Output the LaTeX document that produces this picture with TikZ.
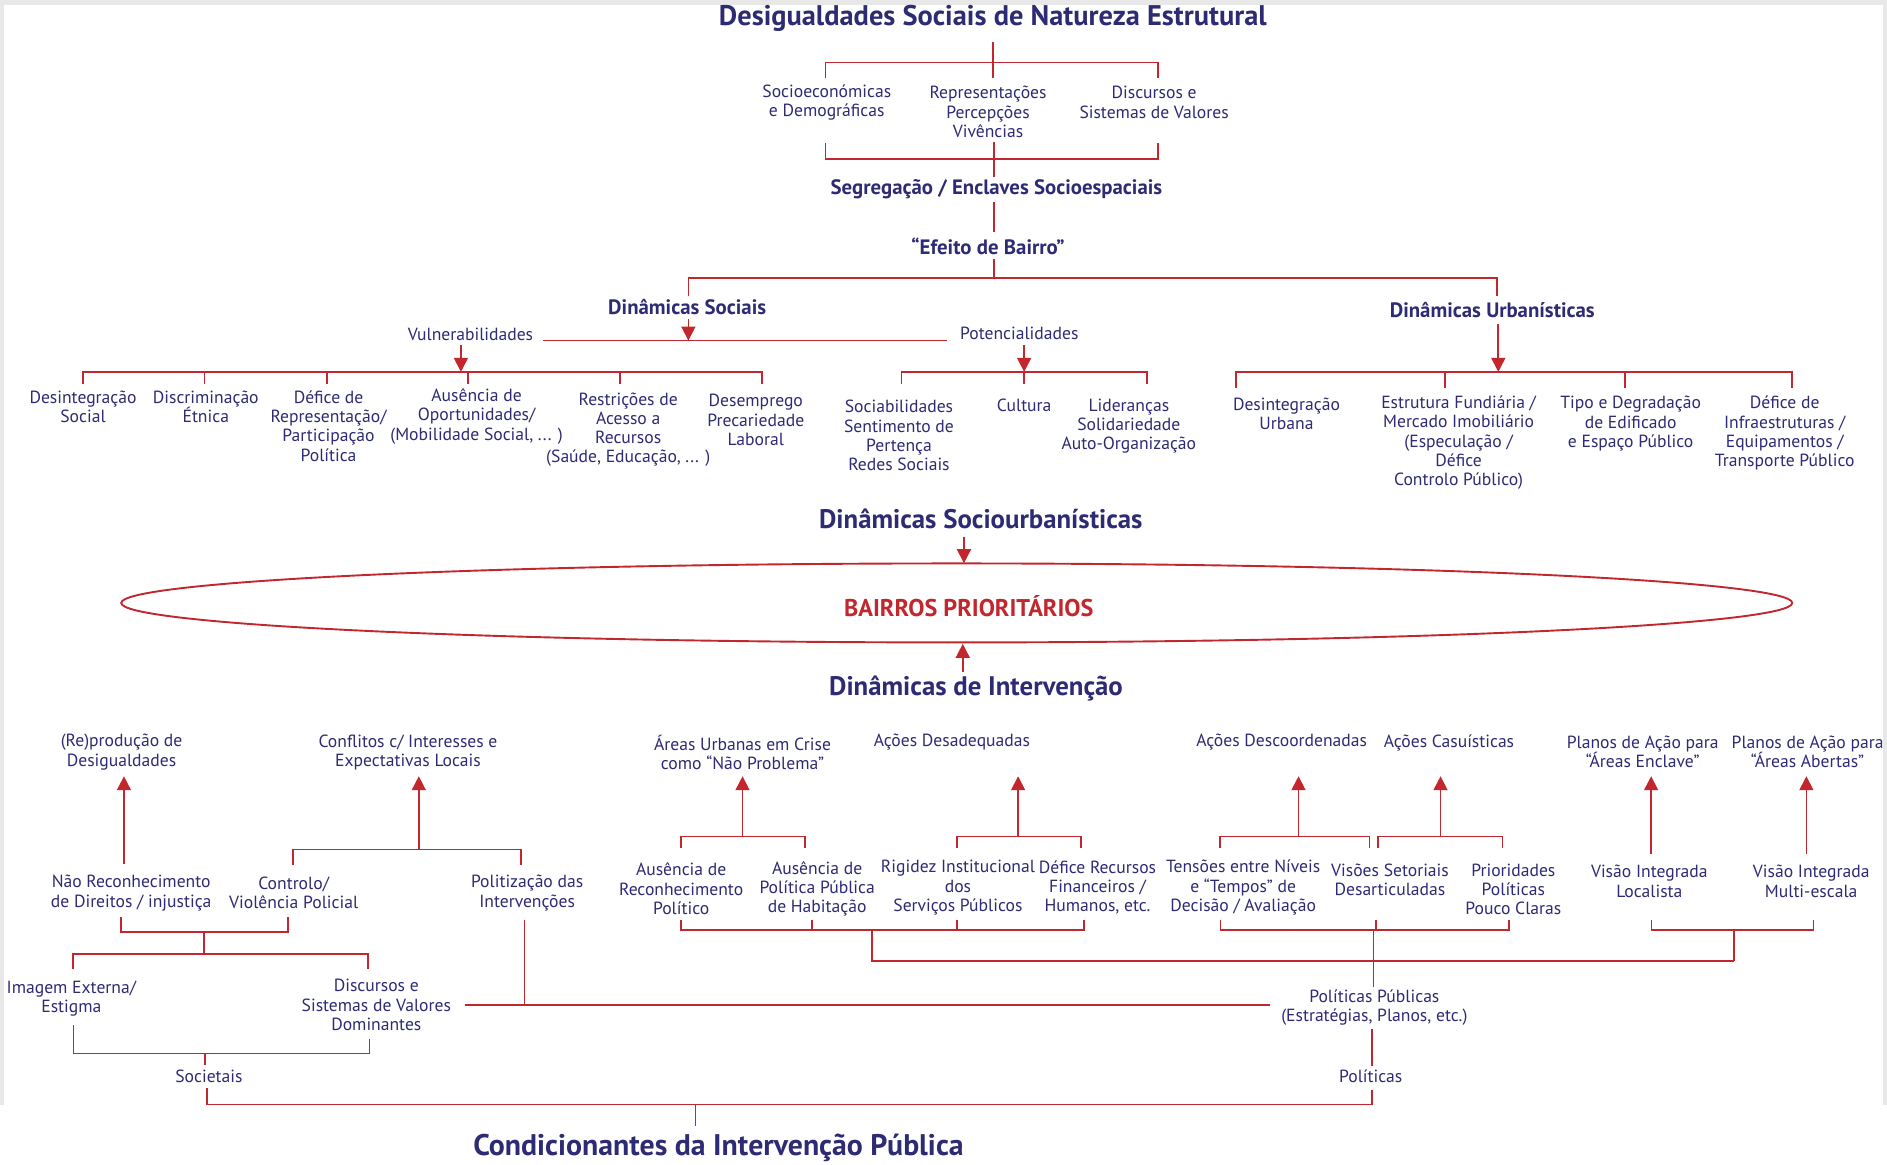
\documentclass[tikz,border=0pt]{standalone}
\usepackage{fontspec}
\setmainfont{PT Sans}
\usetikzlibrary{shapes.geometric,arrows.meta}
\definecolor{navy}{HTML}{2E2B75}
\definecolor{rline}{HTML}{C1272D}
\tikzset{
  txt/.style={align=center, text=navy, font=\fontsize{17.6}{19.3}\selectfont, inner sep=0pt},
  head/.style={align=center, text=navy, font=\bfseries\fontsize{20.8}{23}\selectfont, inner sep=0pt},
  bighead/.style={align=center, text=navy, font=\bfseries\fontsize{26.8}{29}\selectfont, inner sep=0pt},
  ln/.style={draw=rline, line width=1.7pt},
  arr/.style={ln, -{Triangle[width=14pt,length=14pt]}},
}
\begin{document}
\begin{tikzpicture}[x=1.2034pt, y=-1.2034pt]
\useasboundingbox (0,0) rectangle (1568,968);
\fill[white] (0,0) rectangle (1568,968);
\fill[gray!18] (0,0) rectangle (1568,4);
\fill[gray!18] (0,0) rectangle (3,918);
\fill[gray!18] (1565,0) rectangle (1568,918);

% ---------- top ----------
\node[bighead, font=\bfseries\fontsize{28.4}{30}\selectfont] (title) at (825,15) {Desigualdades Sociais de Natureza Estrutural};
\node[txt] (socio) at (687,85) {Socioeconómicas\\e Demográficas};
\node[txt] (repr) at (821,93) {Representações\\Percepções\\Vivências};
\node[txt] (disc) at (959,85) {Discursos e\\Sistemas de Valores};
\node[head] (segreg) at (828,157) {Segregação / Enclaves Socioespaciais};
\node[head] (efeito) at (821,205) {“Efeito de Bairro”};

\draw[ln] (825,35) -- (825,65);
\draw[ln] (686,65) -- (686,52) -- (962,52) -- (962,65);
\draw[ln] (686,119) -- (686,132) -- (962,132) -- (962,119);
\draw[ln] (826,118) -- (826,147);
\draw[ln] (826,168) -- (826,193);
\draw[ln] (826,215) -- (826,231);
\draw[ln] (572,246) -- (572,231) -- (1244,231) -- (1244,246);

% ---------- dinamicas sociais ----------
\node[head] (dinsoc) at (571,255) {Dinâmicas Sociais};
\node[txt] (vuln) at (391,278) {Vulnerabilidades};
\node[txt] (poten) at (847,277) {Potencialidades};
\draw[arr] (572,265) -- (572,283);
\draw[ln] (451,283) -- (787,283);
\draw[arr] (383,287) -- (383,309);
\draw[ln] (69,319) -- (69,309) -- (633,309) -- (633,319);
\foreach \xx in {170,272,389,515} \draw[ln] (\xx,309) -- (\xx,319);

\node[txt] (desint) at (69,338) {Desintegração\\Social};
\node[txt] (discr) at (171,338) {Discriminação\\Étnica};
\node[txt] (defrep) at (273,354) {Défice de\\Representação/\\Participação\\Política};
\node[txt] (ausop) at (396,346) {Ausência de\\Oportunidades/\\(Mobilidade Social, ... )};
\node[txt] (restr) at (522,357) {Restrições de\\Acesso a\\Recursos\\(Saúde, Educação, ... )};
\node[txt] (desemp) at (628,349) {Desemprego\\Precariedade\\Laboral};

\draw[arr] (851,287) -- (851,309);
\draw[ln] (749,319) -- (749,309) -- (953,309) -- (953,319);
\draw[ln] (851,309) -- (851,319);
\node[txt] (sociab) at (747,362) {Sociabilidades\\Sentimento de\\Pertença\\Redes Sociais};
\node[txt] (cultura) at (851,337) {Cultura};
\node[txt] (lider) at (938,354) {Lideranças\\Solidariedade\\Auto-Organização};

% ---------- dinamicas urbanisticas ----------
\node[head] (dinurb) at (1240,258) {Dinâmicas Urbanísticas};
\draw[arr] (1245,269) -- (1245,309);
\draw[ln] (1027,322) -- (1027,309) -- (1489,309) -- (1489,322);
\foreach \xx in {1200.5,1350} \draw[ln] (\xx,309) -- (\xx,322);
\node[txt] (desurb) at (1069,344) {Desintegração\\Urbana};
\node[txt] (estrut) at (1212,368) {Estrutura Fundiária /\\Mercado Imobiliário\\(Especulação /\\Défice\\Controlo Público)};
\node[txt] (tipo) at (1355,352) {Tipo e Degradação\\de Edificado\\e Espaço Público};
\node[txt] (definf) at (1483,360) {Défice de\\Infraestruturas /\\Equipamentos /\\Transporte Público};

% ---------- centre ----------
\node[bighead] (socurb) at (815,431) {Dinâmicas Sociourbanísticas};
\node[draw=rline, line width=1.9pt, ellipse, minimum width=1671pt, minimum height=79pt, inner sep=0pt] (bairros) at (795,501) {};
\node[align=center, text=rline, font=\bfseries\fontsize{24.2}{26}\selectfont, inner sep=0pt] (bairrostxt) at (805,504) {BAIRROS PRIORITÁRIOS};
\node[bighead] (dinint) at (811,572) {Dinâmicas de Intervenção};
\draw[arr] (801,446) -- (801,468);
\draw[arr] (800,558) -- (800,535);

% ---------- bottom outcomes ----------
\node[txt] (reprod) at (101,625) {(Re)produção de\\Desigualdades};
\node[txt] (conflit) at (339,625) {Conflitos c/ Interesses e\\Expectativas Locais};
\node[txt] (areas) at (617,625) {Áreas Urbanas em Crise\\como “Não Problema”};
\node[txt] (acdesad) at (791,617) {Ações Desadequadas};
\node[txt] (acdesc) at (1065,617) {Ações Descoordenadas};
\node[txt] (accas) at (1204,617) {Ações Casuísticas};
\node[txt] (planE) at (1365,625) {Planos de Ação para\\“Áreas Enclave”};
\node[txt] (planA) at (1502,625) {Planos de Ação para\\“Áreas Abertas”};

\draw[arr] (103,718) -- (103,645);
\draw[arr] (348,706) -- (348,645);
\draw[arr] (617,695) -- (617,645);
\draw[arr] (846,695) -- (846,645);
\draw[arr] (1079,695) -- (1079,645);
\draw[arr] (1197,695) -- (1197,645);
\draw[arr] (1372,710) -- (1372,645);
\draw[arr] (1501,710) -- (1501,645);

\draw[ln] (243.5,719) -- (243.5,706) -- (433,706) -- (433,719);
\draw[ln] (566,705) -- (566,695) -- (669,695) -- (669,705);
\draw[ln] (795,705) -- (795,695) -- (898,695) -- (898,705);
\draw[ln] (1014,705) -- (1014,695) -- (1138,695) -- (1138,705);
\draw[ln] (1145,705) -- (1145,695) -- (1248.5,695) -- (1248.5,705);

% ---------- bottom causes ----------
\node[txt] (naorec) at (109,742) {Não Reconhecimento\\de Direitos / injustiça};
\node[txt] (controlo) at (244,742) {Controlo/\\Violência Policial};
\node[txt] (politiz) at (438,742) {Politização das\\Intervenções};
\node[txt] (ausrec) at (566,738.5) {Ausência de\\Reconhecimento\\Político};
\node[txt] (auspol) at (679,738.5) {Ausência de\\Política Pública\\de Habitação};
\node[txt] (rigidez) at (796,737.6) {Rigidez Institucional\\dos\\Serviços Públicos};
\node[txt] (deficrec) at (912,737.6) {Défice Recursos\\Financeiros /\\Humanos, etc.};
\node[txt] (tensoes) at (1033,737.6) {Tensões entre Níveis\\e “Tempos” de\\Decisão / Avaliação};
\node[txt] (visoes) at (1155,731) {Visões Setoriais\\Desarticuladas};
\node[txt] (priorid) at (1257.5,739) {Prioridades\\Políticas\\Pouco Claras};
\node[txt] (visaoL) at (1370.5,732.4) {Visão Integrada\\Localista};
\node[txt] (visaoM) at (1505,732.4) {Visão Integrada\\Multi-escala};

% societais branch
\draw[ln] (100.4,762) -- (100.4,774.7) -- (239.5,774.7) -- (239.5,762);
\draw[ln] (169.6,774.7) -- (169.6,792.8);
\draw[ln] (60.4,805.5) -- (60.4,792.8) -- (306,792.8) -- (306,805.5);
\node[txt] (imagem) at (59.3,829.6) {Imagem Externa/\\Estigma};
\node[txt] (discdom) at (312.7,835) {Discursos e\\Sistemas de Valores\\Dominantes};
\draw[ln] (435.8,764.5) -- (435.8,835);
\draw[ln] (386.7,835) -- (1055,835);
\draw[ln] (61,852) -- (61,875.3) -- (307,875.3) -- (307,863);
\draw[ln] (170.6,875.3) -- (170.6,885);
\node[txt] (societais) at (173.6,894) {Societais};

% politicas branch
\draw[ln] (565.7,764.5) -- (565.7,772.8) -- (900.5,772.8) -- (900.5,764.5);
\foreach \xx in {674.6,795.3} \draw[ln] (\xx,764.5) -- (\xx,772.8);
\draw[ln] (724.8,772.8) -- (724.8,798.6) -- (1440.8,798.6);
\draw[ln] (1014.2,764.5) -- (1014.2,773) -- (1253.6,773) -- (1253.6,764.5);
\draw[ln] (1143.1,764.5) -- (1143.1,773);
\draw[ln] (1141.2,773) -- (1141.2,820);
\draw[ln] (1372.3,764.5) -- (1372.3,772.8) -- (1506.8,772.8) -- (1506.8,764.5);
\draw[ln] (1440.8,772.8) -- (1440.8,798.6);
\node[txt] (polpub) at (1142,837) {Políticas Públicas\\(Estratégias, Planos, etc.)};
\draw[ln] (1140,855) -- (1140,886);
\node[txt] (politicas) at (1139,894) {Políticas};

% conditionants
\draw[ln] (172,904.4) -- (172,917.7) -- (1140,917.7) -- (1140,905.8);
\draw[ln] (578,917.7) -- (578,936);
\node[bighead, font=\bfseries\fontsize{29.8}{32}\selectfont] (condic) at (597,953.5) {Condicionantes da Intervenção Pública};
\end{tikzpicture}
\end{document}
